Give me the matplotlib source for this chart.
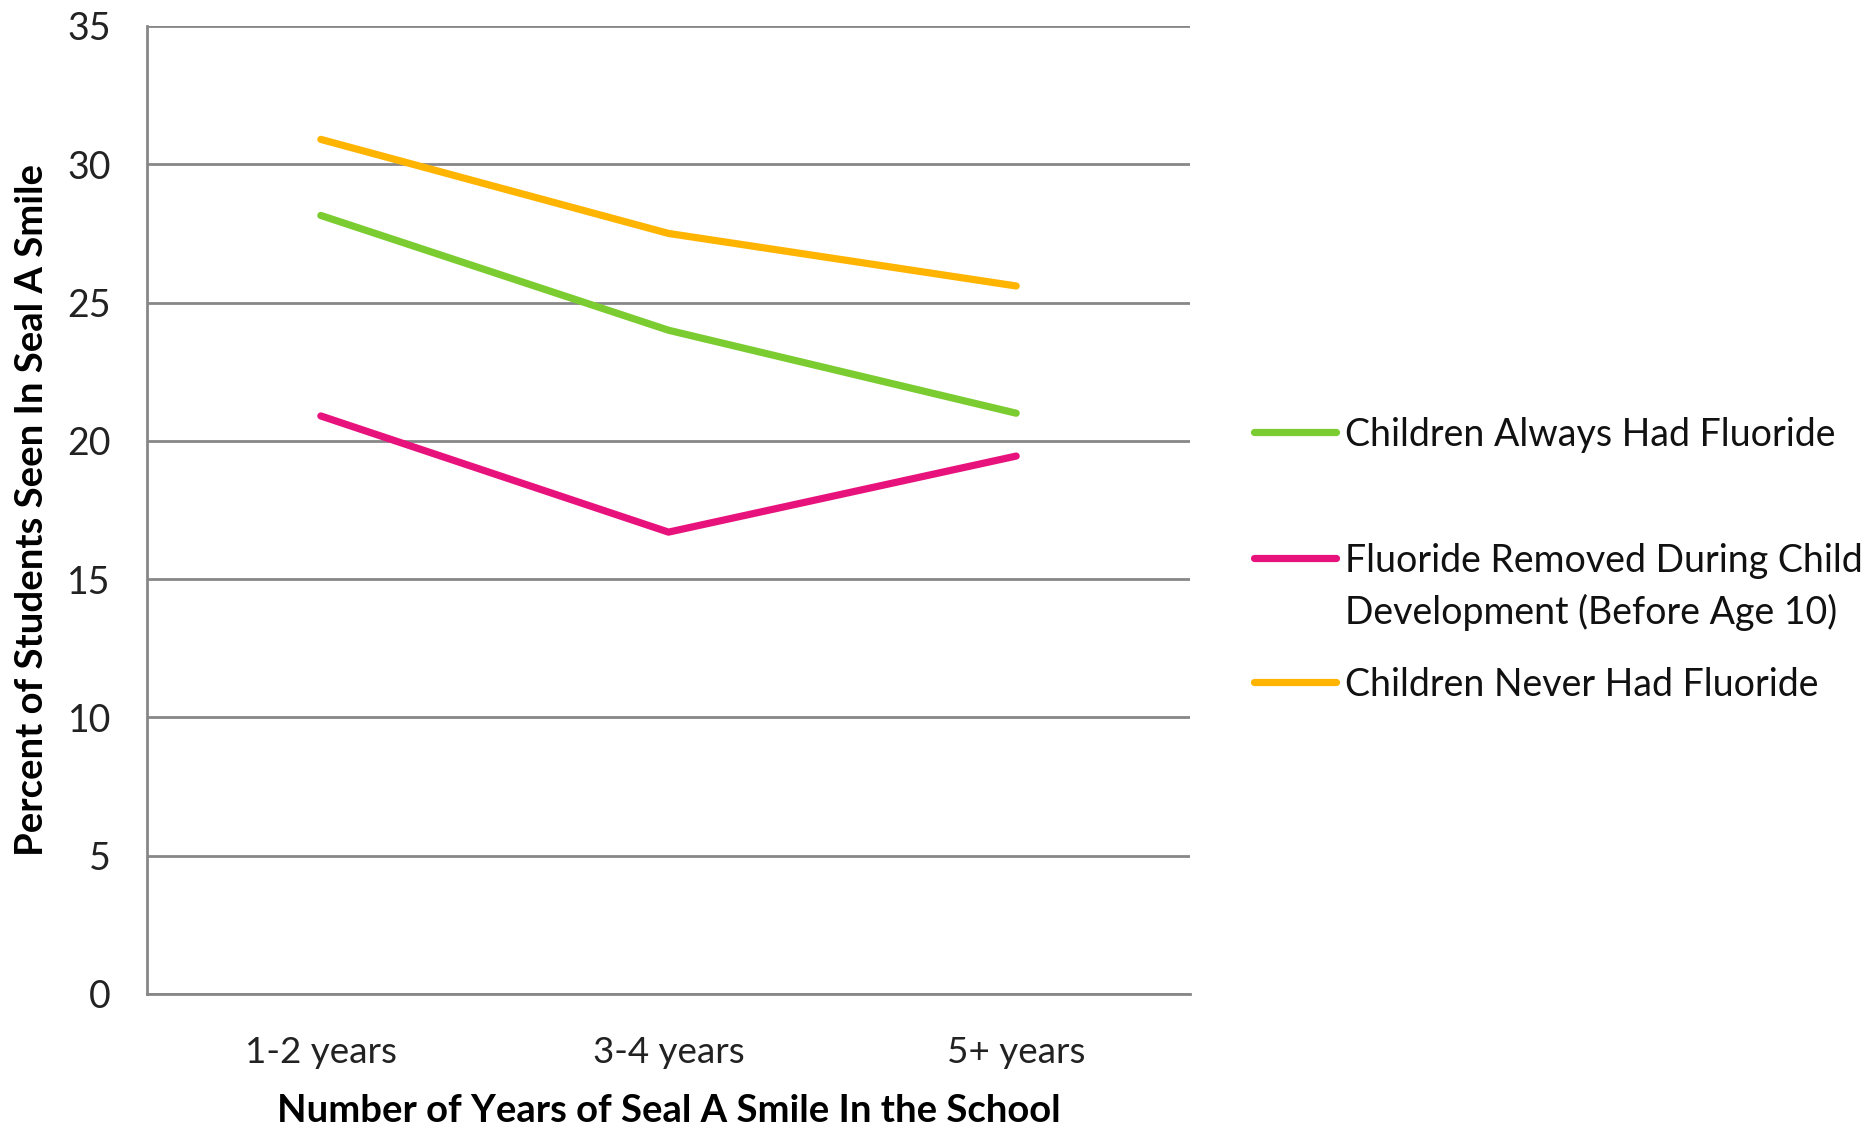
import matplotlib
matplotlib.use("Agg")
import matplotlib.pyplot as plt
from matplotlib.lines import Line2D

categories = ["1-2 years", "3-4 years", "5+ years"]
always_had = [28.15, 24.0, 21.0]
removed = [20.9, 16.7, 19.45]
never_had = [30.9, 27.5, 25.6]

series_labels = [
    "Children Always Had Fluoride",
    "Fluoride Removed During Child\nDevelopment (Before Age 10)",
    "Children Never Had Fluoride",
]
series_colors = ["#7ACC30", "#E8127C", "#FFB400"]

FONT = "Lato"
GRID = "#878787"
W, H = 1873, 1130

plt.rcParams["font.family"] = FONT

fig = plt.figure(figsize=(W / 100, H / 100), dpi=100)
ax = fig.add_axes([147 / W, 1 - 994 / H, (1190 - 147) / W, (994 - 26) / H])

x = list(range(len(categories)))
for vals, col in zip([always_had, removed, never_had], series_colors):
    ax.plot(x, vals, color=col, lw=5.2, solid_capstyle="round",
            solid_joinstyle="round", zorder=3)

ax.set_xlim(-0.5, len(categories) - 0.5)
ax.set_ylim(0, 35)
ax.set_yticks(range(0, 36, 5))
ax.set_xticks(x)
ax.set_xticklabels(categories)
ax.yaxis.grid(True, color=GRID, lw=2)
ax.set_axisbelow(True)

for s in ["top", "right"]:
    ax.spines[s].set_visible(False)
for s in ["left", "bottom"]:
    ax.spines[s].set_color(GRID)
    ax.spines[s].set_linewidth(2)

ax.tick_params(axis="y", length=0, labelsize=27, colors="#222222", pad=26)
ax.tick_params(axis="x", length=0, labelsize=26.5, colors="#222222", pad=30)

ax.set_xlabel("Number of Years of Seal A Smile In the School",
              fontsize=27.5, fontweight="bold", va="center")
ax.xaxis.set_label_coords(0.5, -0.121)
ax.set_ylabel("Percent of Students Seen In Seal A Smile",
              fontsize=27.5, fontweight="bold", va="center")
ax.yaxis.set_label_coords(-0.110, 0.5)

# legend drawn by hand, uneven spacing like the original
legend_y = [432, 558, 682]
for lab, col, yy in zip(series_labels, series_colors, legend_y):
    fy = 1 - yy / H
    fig.add_artist(Line2D([1254 / W, 1336 / W], [fy, fy], color=col, lw=5.2,
                          solid_capstyle="round", transform=fig.transFigure))
    fig.text(1345 / W, fy + 0.0135, lab, fontsize=27, va="top", ha="left",
             linespacing=1.5, color="#111111")

fig.savefig("out.png", dpi=100, facecolor="white")
